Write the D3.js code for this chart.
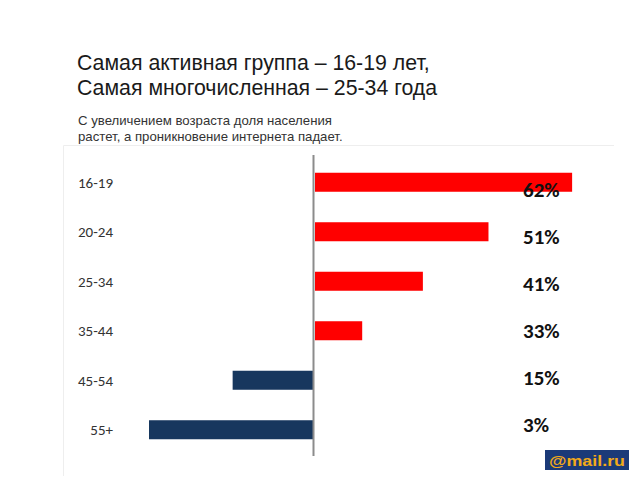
<!DOCTYPE html>
<html><head><meta charset="utf-8">
<script src="https://cdn.jsdelivr.net/npm/d3@7"></script>
<style>body{margin:0;background:#fff}svg{display:block}</style>
</head><body>
<svg id="c" width="640" height="480"></svg>
<script>
const titleLines = ["Самая активная группа – 16-19 лет,", "Самая многочисленная – 25-34 года"];
const subtitleLines = ["С увеличением возраста доля населения", "растет, а проникновение интернета падает."];
const categories = ["16-19", "20-24", "25-34", "35-44", "45-54", "55+"];
const indexValues = [158, 107, 67, 30, -49, -100];
const penetration = [62, 51, 41, 33, 15, 3];

const svg = d3.select("#c");
svg.append("rect").attr("width",640).attr("height",480).attr("fill","#fff");

// title
svg.append("g").selectAll("text").data(titleLines).join("text")
  .attr("x",77).attr("y",(d,i)=>69.5+i*25.8)
  .attr("font-family","Liberation Sans, Arial, sans-serif").attr("font-size",21.3).attr("fill","#1a1a1a")
  .text(d=>d);
svg.append("g").selectAll("text").data(subtitleLines).join("text")
  .attr("x",78).attr("y",(d,i)=>124.5+i*16.5)
  .attr("font-family","Liberation Sans, Arial, sans-serif").attr("font-size",13.2).attr("fill","#333")
  .text(d=>d);

// panel border
svg.append("path").attr("d","M63.5,476V145.5H614").attr("fill","none").attr("stroke","#eeeeee");

const y = d3.scaleBand().domain(categories).range([157.5,454.5]).paddingInner(0.616).paddingOuter(0.308);
const x = d3.scaleLinear().domain([-100,100]).range([149,477]);
const yLab = d3.scalePoint().domain(categories).range([189,424]);

const data = categories.map((c,i)=>({c, v:indexValues[i], p:penetration[i]}));

svg.append("g").selectAll("rect").data(data).join("rect")
  .attr("x",d=>d.v>=0? x(0)+2 : x(d.v))
  .attr("width",d=>d.v>=0? x(d.v)-x(0)-2 : x(0)-x(d.v))
  .attr("y",d=>y(d.c)).attr("height",y.bandwidth())
  .attr("fill",d=>d.v>=0?"#ff0000":"#17375e");

// axis line
svg.append("line").attr("x1",x(0)+0.5).attr("x2",x(0)+0.5).attr("y1",155).attr("y2",456)
  .attr("stroke","#8c8c8c").attr("stroke-width",2);

// category labels
svg.append("g").selectAll("text").data(data).join("text")
  .attr("x",113).attr("y",d=>y(d.c)+y.bandwidth()/2).attr("dy","0.35em")
  .attr("text-anchor","end")
  .attr("font-family","Carlito, Lato, sans-serif").attr("font-size",15).attr("fill","#333")
  .text(d=>d.c);

// percent labels
svg.append("g").selectAll("text").data(data).join("text")
  .attr("x",523).attr("y",d=>yLab(d.c)).attr("dy","0.36em")
  .attr("font-family","Carlito, Lato, sans-serif").attr("font-weight","bold").attr("font-size",21).attr("fill","#111")
  .text(d=>d.p+"%");

// logo
const logo = svg.append("g");
logo.append("rect").attr("x",545).attr("y",450).attr("width",84).attr("height",20).attr("fill","#1b3a78");
logo.append("text").attr("x",587).attr("y",465.5).attr("text-anchor","middle")
  .attr("font-family","Liberation Sans, Arial, sans-serif").attr("font-weight","bold").attr("font-size",15)
  .attr("fill","#f2a91a").attr("textLength",76).attr("lengthAdjust","spacingAndGlyphs").text("@mail.ru");
</script>
</body></html>
